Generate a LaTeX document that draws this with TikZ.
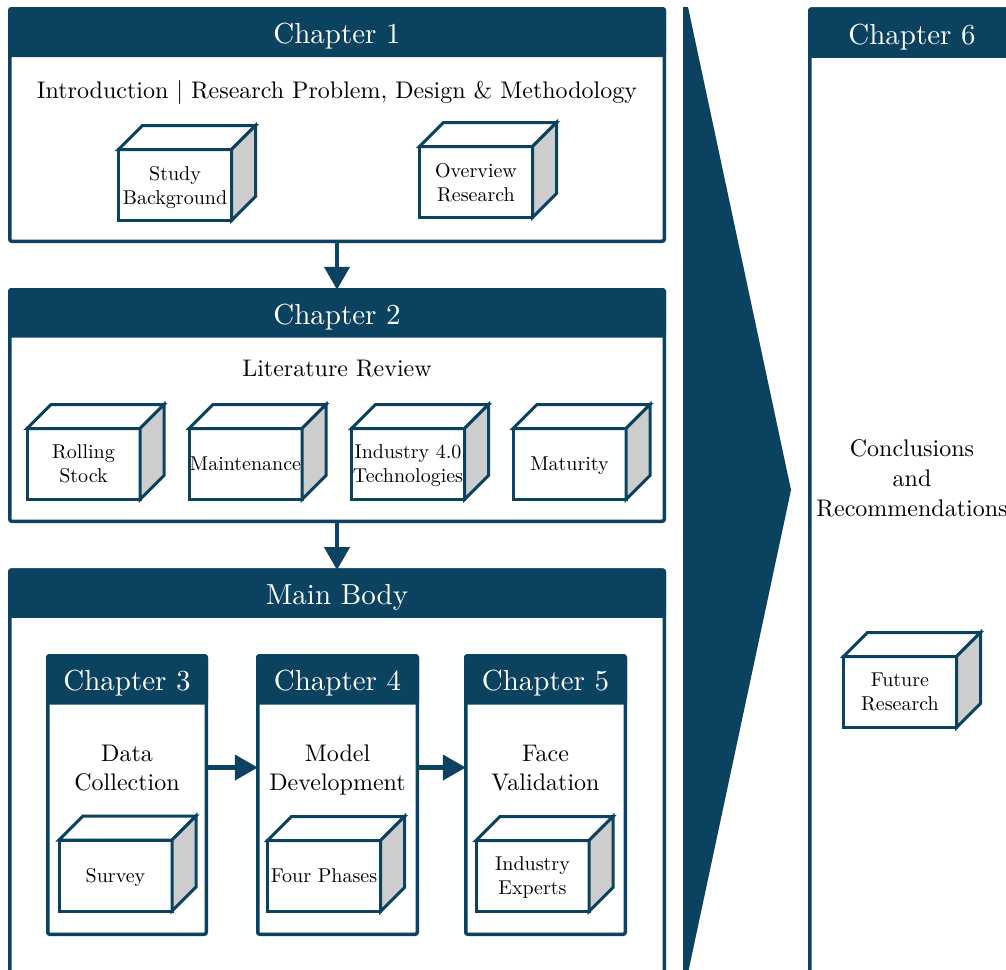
\documentclass[tikz,border=0pt]{standalone}
\usepackage{fontspec}
\setmainfont{lmroman10-regular.otf}
\usetikzlibrary{arrows.meta}
\definecolor{dkblue}{RGB}{11,66,96}
\definecolor{sidegray}{RGB}{205,205,205}
\newcommand\cubed{24}
\tikzset{
  frame/.style={draw=dkblue, line width=3.5pt, rounded corners=2pt, fill=white,
    inner sep=0pt, outer sep=0pt},
  head/.style={draw=dkblue, fill=dkblue, line width=3.5pt, rounded corners=2pt,
    text=white, inner sep=0pt, outer sep=0pt, text depth=0pt,
    font=\fontsize{29}{33}\selectfont},
  headtext/.style={yshift=-1.5pt},
  bodytext/.style={inner sep=0pt, align=center, text depth=0pt,
    font=\fontsize{24}{29}\selectfont},
  cubefront/.style={draw=dkblue, fill=white, line width=3pt, minimum width=113pt,
    minimum height=71pt, inner sep=0pt, outer sep=0pt, align=center, text depth=0pt,
    font=\fontsize{20}{24}\selectfont},
  cubeedge/.style={draw=dkblue, line width=3pt},
  arr/.style={draw=dkblue, line width=4.5pt, -{Triangle[width=25pt,length=23pt]}},
}
% front face, top face and shaded side of a labelled cube
\newcommand\cubebox[4]{%
  \node[cubefront] (#1) at (#2,#3) {#4};
  \draw[cubeedge, fill=white] (#1.north west) -- ([shift={(\cubed,-\cubed)}]#1.north west)
    -- ([shift={(\cubed,-\cubed)}]#1.north east) -- (#1.north east) -- cycle;
  \draw[cubeedge, fill=sidegray] (#1.north east) -- ([shift={(\cubed,-\cubed)}]#1.north east)
    -- ([shift={(\cubed,-\cubed)}]#1.south east) -- (#1.south east) -- cycle;
}
% dark title bar along the top edge of a frame
\newcommand\titlebar[4]{%
  \node[head, minimum width=#3, minimum height=#4, anchor=north] (#1h) at (#1.north) {};
  \node[head, draw=none, fill=none, headtext] (#1l) at (#1h) {#2};
}
\begin{document}
\begin{tikzpicture}[x=1pt, y=-1pt]
\useasboundingbox (0,0) rectangle (1006,969);
\clip (0,0) rectangle (1006,969);

% Chapter 1
\node[frame, minimum width=654.5pt, minimum height=232.5pt] (ch1) at (337,125) {};
\titlebar{ch1}{Chapter 1}{654.5pt}{46.5pt}
\node[bodytext] (ch1t) at (337,89) {Introduction | Research Problem, Design \& Methodology};
\cubebox{bg}{175}{185}{Study\\Background}
\cubebox{ov}{476}{182}{Overview\\Research}

% Chapter 2
\node[frame, minimum width=654.5pt, minimum height=231.5pt] (ch2) at (337,405.5) {};
\titlebar{ch2}{Chapter 2}{654.5pt}{46pt}
\node[bodytext] (ch2t) at (337,368) {Literature Review};
\cubebox{rs}{83.5}{464}{Rolling\\Stock}
\cubebox{mt}{245.5}{464}{Maintenance}
\cubebox{it}{408}{464}{Industry 4.0\\Technologies}
\cubebox{ma}{569.5}{464}{Maturity}

% Main body with chapters 3 to 5
\node[frame, minimum width=654.5pt, minimum height=428pt] (main) at (337,784) {};
\titlebar{main}{Main Body}{654.5pt}{46pt}

\node[frame, minimum width=158.5pt, minimum height=278.5pt] (ch3) at (127,795) {};
\titlebar{ch3}{Chapter 3}{158.5pt}{47pt}
\node[bodytext] (ch3t) at (127,767.5) {Data\\Collection};
\cubebox{sv}{115.5}{875.5}{Survey}

\node[frame, minimum width=159.5pt, minimum height=278.5pt] (ch4) at (337.5,795) {};
\titlebar{ch4}{Chapter 4}{159.5pt}{47pt}
\node[bodytext] (ch4t) at (337.5,767.5) {Model\\Development};
\cubebox{fp}{324}{876}{Four Phases}

\node[frame, minimum width=159.5pt, minimum height=278.5pt] (ch5) at (545.5,795) {};
\titlebar{ch5}{Chapter 5}{159.5pt}{47pt}
\node[bodytext] (ch5t) at (545.5,767.5) {Face\\Validation};
\cubebox{ie}{532.5}{876}{Industry\\Experts}

% large chevron pointing to the final chapter
\fill[dkblue] (683,7) -- (688,7) -- (791,490) -- (688,973) -- (683,973) -- cycle;

% Chapter 6
\node[frame, minimum width=204.5pt, minimum height=989pt] (ch6) at (912,503.5) {};
\titlebar{ch6}{Chapter 6}{204.5pt}{47pt}
\node[bodytext, font=\fontsize{24}{30}\selectfont] (ch6t) at (912,478) {Conclusions\\and\\Recommendations};
\cubebox{fr}{900}{692}{Future\\Research}

% flow between chapters
\draw[arr] (ch1.south) -- (ch2h.north);
\draw[arr] (ch2.south) -- (mainh.north);
\draw[arr] (ch3t -| ch3.east) -- (ch3t -| ch4.west);
\draw[arr] (ch4t -| ch4.east) -- (ch4t -| ch5.west);
\end{tikzpicture}
\end{document}
